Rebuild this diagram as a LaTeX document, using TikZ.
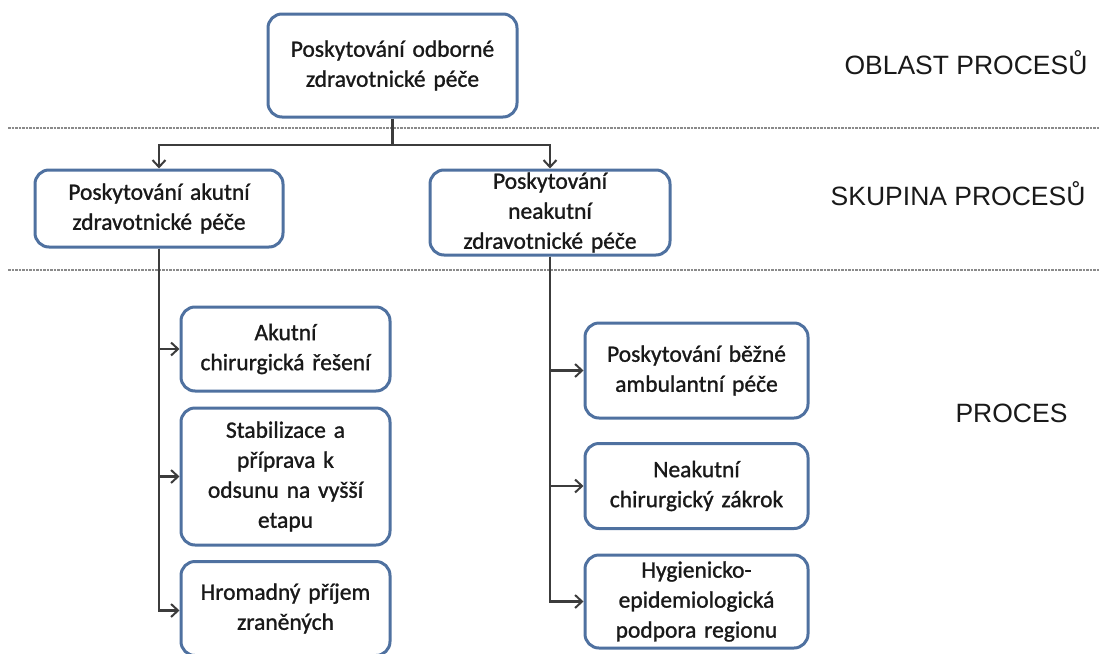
\documentclass[tikz,border=0pt]{standalone}
\usepackage{fontspec}
\setmainfont{Carlito}[FakeBold=1.1]
\newfontfamily\labelfont{Liberation Sans}
\usetikzlibrary{arrows.meta}
\definecolor{boxblue}{HTML}{4F71A0}
\definecolor{linegray}{HTML}{3C3C3C}
\definecolor{dashgray}{HTML}{8A8A8A}
\tikzset{
  procbox/.style={draw=boxblue, line width=3pt, rounded corners=14pt, fill=white,
    align=center, inner sep=0pt, font=\fontsize{23.5}{30}\selectfont, text=black!90},
  conn/.style={draw=linegray, line width=2.4pt},
  arr/.style={conn, -{Straight Barb[length=7pt,width=13pt,line width=2pt]}},
  levelsep/.style={draw=dashgray, line width=1.6pt, dash pattern=on 2.5pt off 1pt},
  levellabel/.style={font=\labelfont\fontsize{26.5}{30}\selectfont, anchor=east, text=black!90}
}
\begin{document}
\begin{tikzpicture}[x=1pt,y=-1pt]
\useasboundingbox (0,0) rectangle (1099,653);

% level separators
\coordinate (sepAL) at (8,128);  \coordinate (sepAR) at (1099,128);
\coordinate (sepBL) at (8,270);  \coordinate (sepBR) at (1099,270);
\draw[levelsep] (sepAL) -- (sepAR);
\draw[levelsep] (sepBL) -- (sepBR);

% level labels
\node[levellabel] (lvlA) at (1091,63) {OBLAST PROCESŮ};
\node[levellabel] (lvlB) at (1089,194) {SKUPINA PROCESŮ};
\node[levellabel] (lvlC) at (1071,413) {PROCES};

% area
\node[procbox, minimum width=249pt, minimum height=103pt, text width=235pt] (top) at (392.5,65.5)
  {Poskytování odborné\\zdravotnické péče};

% groups
\node[procbox, minimum width=248pt, minimum height=77pt, text width=235pt] (g1) at (159,208.5)
  {Poskytování akutní\\zdravotnické péče};
\node[procbox, minimum width=240pt, minimum height=85pt, text width=228pt] (g2) at (550,212.5)
  {Poskytování\\neakutní\\zdravotnické péče};

% processes of the acute group
\node[procbox, minimum width=209pt, minimum height=84pt, text width=200pt] (p1) at (285.5,349)
  {Akutní\\chirurgická řešení};
\node[procbox, minimum width=209pt, minimum height=137pt, text width=200pt] (p2) at (285.5,476.5)
  {Stabilizace a\\příprava k\\odsunu na vyšší\\etapu};
\node[procbox, minimum width=209pt, minimum height=94pt, text width=200pt, yshift=-2pt] (p3) at (285.5,606.5)
  {Hromadný příjem\\zraněných};

% processes of the non-acute group
\node[procbox, minimum width=223pt, minimum height=95pt, text width=215pt] (r1) at (696.5,370.5)
  {Poskytování běžné\\ambulantní péče};
\node[procbox, minimum width=223pt, minimum height=85pt, text width=215pt] (r2) at (696.5,486)
  {Neakutní\\chirurgický zákrok};
\node[procbox, minimum width=223pt, minimum height=93pt, text width=215pt] (r3) at (696.5,601.5)
  {Hygienicko-\\epidemiologická\\podpora regionu};

% connectors
\coordinate (split) at (392.5,145);
\draw[conn] (top.south) -- (split);
\draw[arr] (split) -| (g1.north);
\draw[arr] (split) -| (g2.north);

\draw[arr] (g1.south) |- (p1.west);
\draw[arr] (g1.south) |- (p2.west);
\draw[arr] (g1.south) |- ([yshift=-2pt]p3.west);

\draw[arr] (g2.south) |- (r1.west);
\draw[arr] (g2.south) |- (r2.west);
\draw[arr] (g2.south) |- (r3.west);
\end{tikzpicture}
\end{document}
